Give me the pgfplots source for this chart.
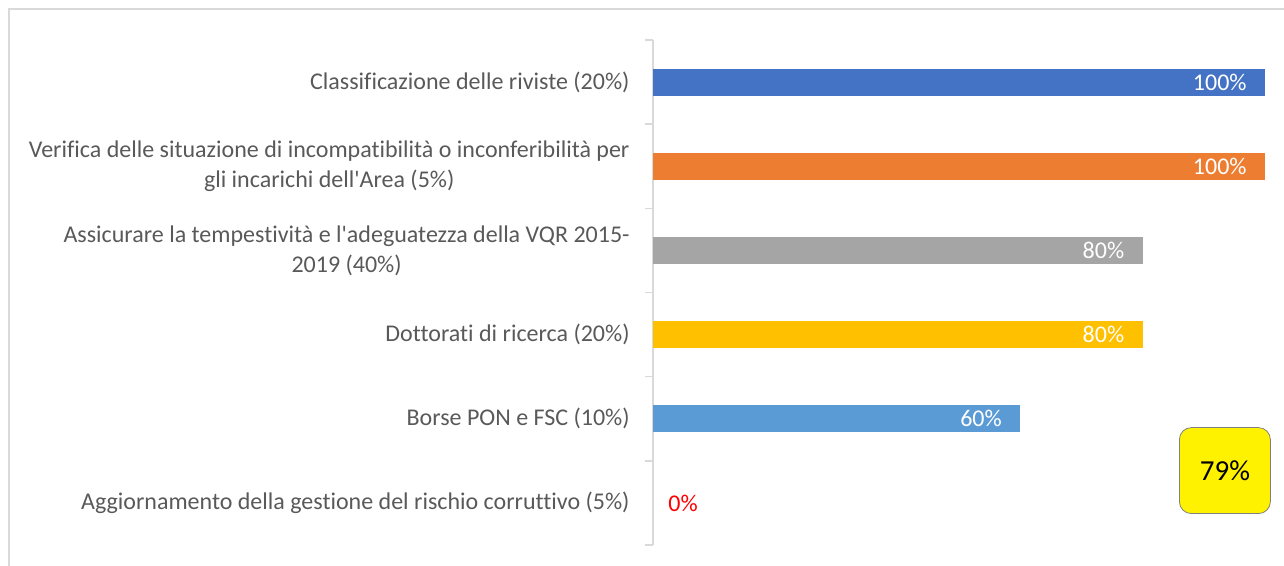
\documentclass[border=0pt]{standalone}
\usepackage{pgfplots}
\pgfplotsset{compat=1.18}
\usepackage{fontspec}
\setmainfont{Carlito}[Ligatures={TeXOff,CommonOff}]
\definecolor{lblgray}{HTML}{595959}
\definecolor{axgray}{HTML}{D9D9D9}
\definecolor{c1}{HTML}{4472C4}
\definecolor{c2}{HTML}{ED7D31}
\definecolor{c3}{HTML}{A5A5A5}
\definecolor{c4}{HTML}{FFC000}
\definecolor{c5}{HTML}{5B9BD5}
\begin{document}
\begin{tikzpicture}[font=\fontsize{12}{15}\selectfont]
\useasboundingbox (-326.5pt,-10.5pt) rectangle (315.5pt,272.5pt);
\begin{axis}[
  at={(0,0)}, anchor=south west,
  scale only axis, width=306pt, height=252.5pt,
  xmin=0, xmax=100, ymin=-0.5, ymax=5.5,
  y dir=reverse,
  axis y line*=left, axis x line=none,
  y axis line style={draw=axgray, line width=0.8pt},
  xtick=\empty,
  ytick={0,1,2,3,4,5},
  yticklabels={
    {Classificazione delle riviste (20\%)},
    {Verifica delle situazione di incompatibilità o inconferibilità per\\gli incarichi dell'Area (5\%)},
    {Assicurare la tempestività e l'adeguatezza della VQR 2015-\\2019 (40\%)},
    {Dottorati di ricerca (20\%)},
    {Borse PON e FSC (10\%)},
    {Aggiornamento della gestione del rischio corruttivo (5\%)}},
  major tick length=0pt,
  minor ytick={-0.5,0.5,1.5,2.5,3.5,4.5,5.5},
  minor tick length=4pt,
  tick align=outside,
  minor tick style={draw=axgray, line width=0.8pt},
  yticklabel style={align=center, text=lblgray, inner sep=0pt, xshift=-11.5pt, font=\fontsize{12}{15}\selectfont},
  xbar, bar width=13.5pt, bar shift=0pt,
  /pgf/number format/assume math mode=true,
  nodes near coords={\pgfmathprintnumber{\pgfplotspointmeta}\%},
  nodes near coords style={anchor=east, inner sep=0pt, xshift=-9pt, text=white, font=\fontsize{12}{15}\selectfont},
  point meta=x,
  clip=false,
]
\addplot[fill=c1, draw=none] coordinates {(100,0)};
\addplot[fill=c2, draw=none] coordinates {(100,1)};
\addplot[fill=c3, draw=none] coordinates {(80,2)};
\addplot[fill=c4, draw=none] coordinates {(80,3)};
\addplot[fill=c5, draw=none] coordinates {(60,4)};
\addplot[fill=none, draw=none, nodes near coords style={anchor=west, xshift=16.5pt, text=red}] coordinates {(0,5)};
\end{axis}
\draw[axgray, line width=0.8pt] (-322pt,-20pt) -- (-322pt,268pt) -- (330pt,268pt);
\node[draw=gray, fill=yellow, rounded corners=6pt, minimum width=45.5pt, minimum height=43pt, inner sep=0pt, anchor=south west, font=\fontsize{14.5}{16}\selectfont] at (263pt,15.5pt) {79\%};
\end{tikzpicture}
\end{document}
